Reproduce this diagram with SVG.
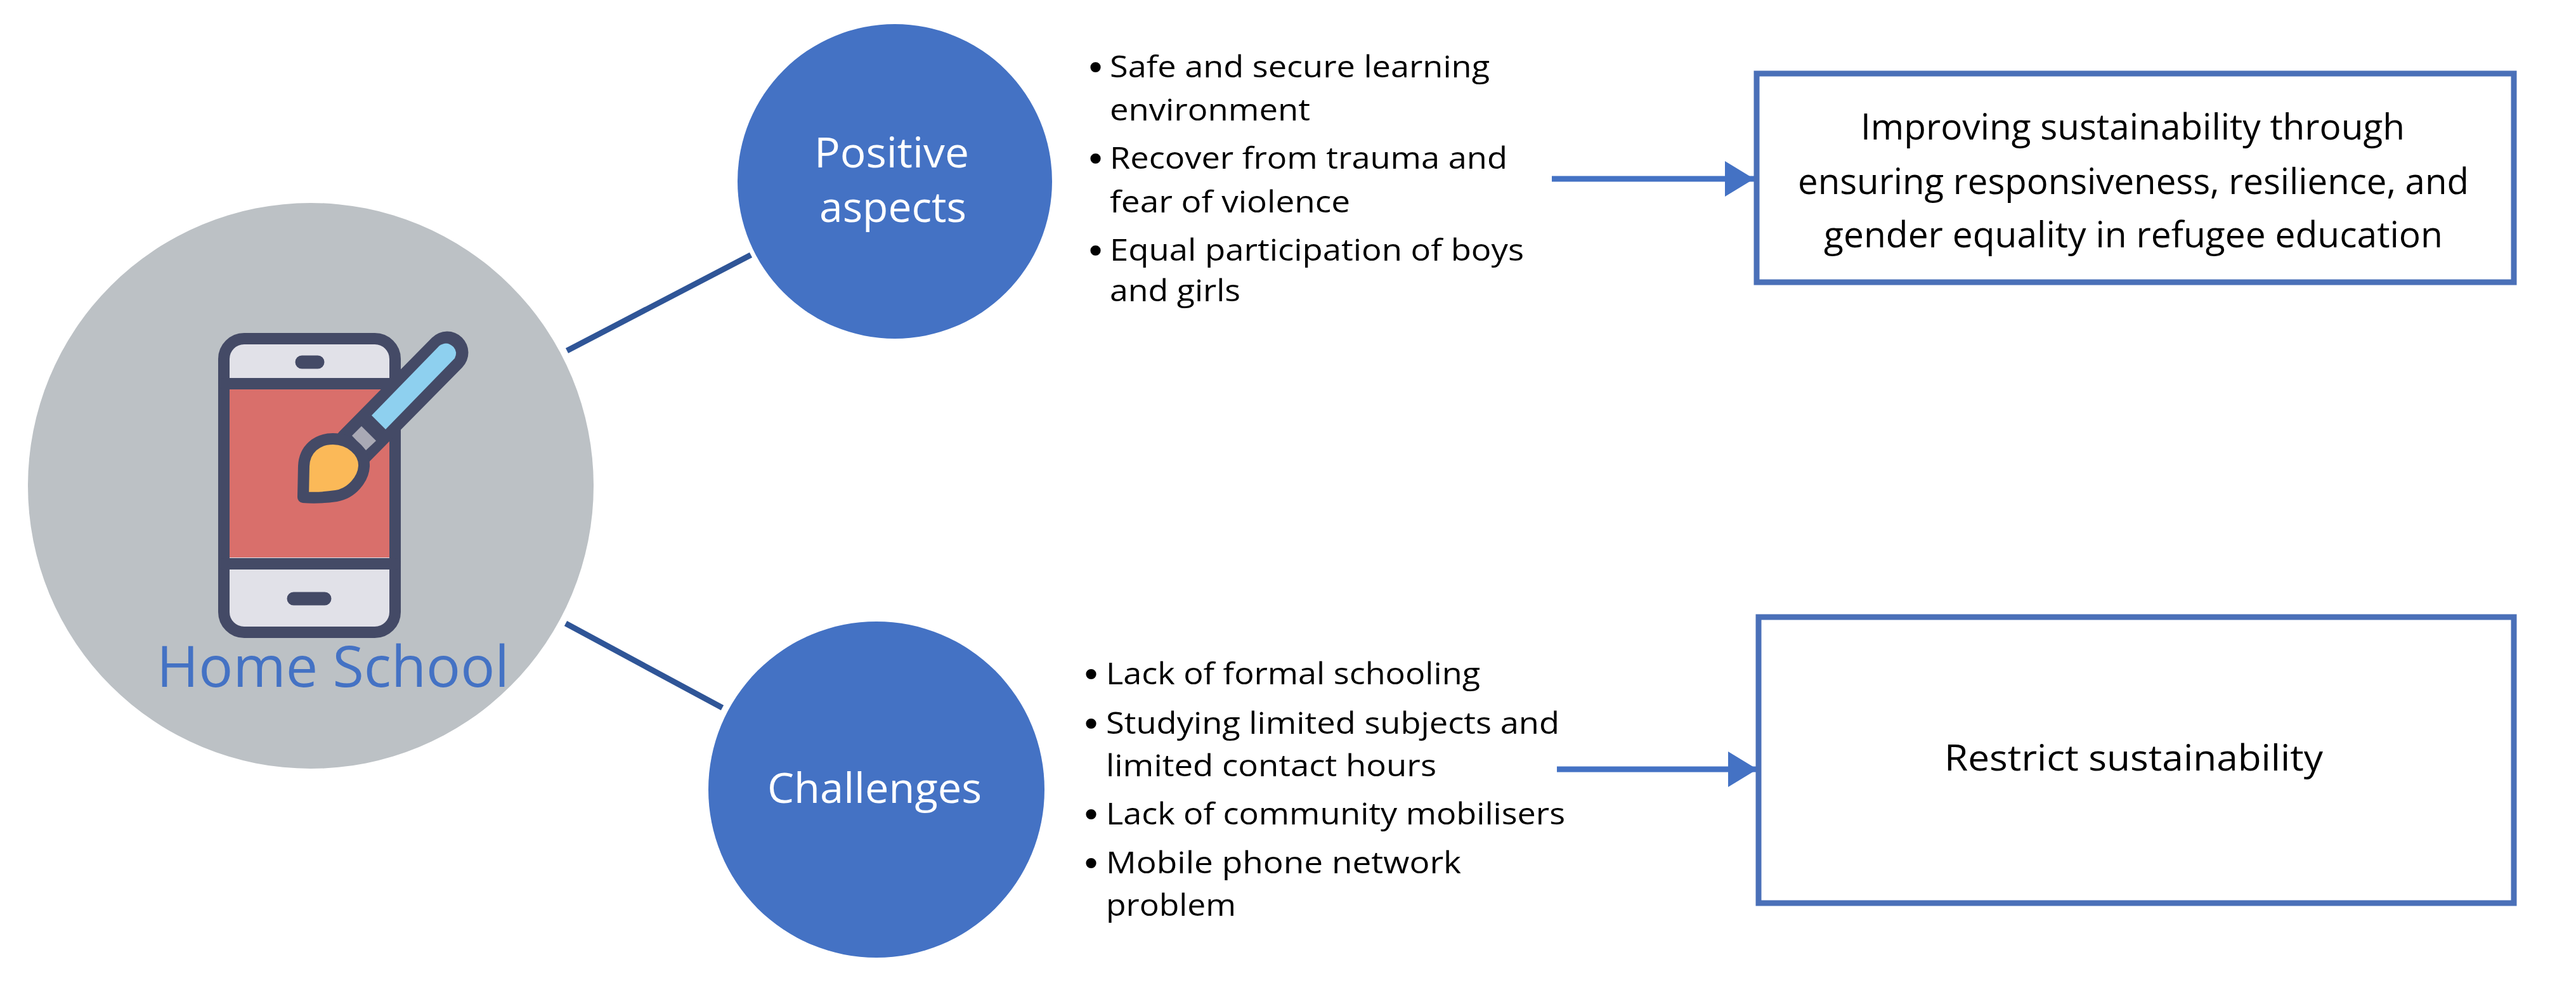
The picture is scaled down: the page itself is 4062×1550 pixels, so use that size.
<svg xmlns="http://www.w3.org/2000/svg" width="4062" height="1550" viewBox="0 0 4062 1550">
<style>
text{font-family:"Open Sans","Noto Sans","Liberation Sans",sans-serif}
.b{font-size:48px;fill:#000}
text.bu{font-family:"DejaVu Sans","Liberation Sans",sans-serif;font-size:56px;fill:#000}
.t{font-size:56px;fill:#000}
.w{font-size:66px;fill:#fff}
.blue{fill:#4472c4}
.box{fill:#fff;stroke:#4a70b8;stroke-width:9}
.link{stroke:#2f5597;stroke-width:9;fill:none}
.arr{stroke:#4472c4;stroke-width:9;fill:none;marker-end:url(#head)}
.dk{stroke:#444a66;fill:none;stroke-linecap:round;stroke-linejoin:round}
</style>
<defs>
<marker id="head" markerUnits="userSpaceOnUse" markerWidth="46" markerHeight="60" refX="46" refY="30" orient="auto">
<path d="M0 2L46 30L0 58Z" fill="#4472c4"/>
</marker>
</defs>
<rect width="4062" height="1550" fill="#fff"/>
<g id="connectors">
<line class="link" x1="894" y1="553" x2="1184" y2="402"/>
<line class="link" x1="892" y1="983" x2="1139" y2="1116"/>
<line class="arr" x1="2447" y1="282" x2="2766" y2="282"/>
<line class="arr" x1="2455" y1="1213" x2="2771" y2="1213"/>
</g>
<g id="home-school">
<ellipse cx="490" cy="766" rx="446" ry="446" fill="#bcc1c5"/>
<rect x="353" y="534" width="270" height="463" rx="32" fill="#e1e1e8" stroke="#444a66" stroke-width="18"/>
<rect x="362" y="613" width="252" height="266" fill="#d96f6b"/>
<path class="dk" stroke-width="18" d="M353 605H623M353 889H623"/>
<path class="dk" stroke-width="21" d="M476 571H501M463 944H512"/>
<path d="M705 556L559 704" stroke="#444a66" stroke-width="67" stroke-linecap="round" fill="none"/>
<path d="M586 655L693 545Q705 537 715 547Q722 555 717 565L608 677Z" fill="#8ed0ef"/>
<path d="M570 672L593 695L577 710L555 687Z" fill="#a9a9b5"/>
<path d="M478 784L479 735C480 708 500 692 525 692C552 692 575 712 574 735C573 755 555 778 530 782C510 785 490 785 478 784Z" fill="#fbb958" stroke="#444a66" stroke-width="18" stroke-linejoin="round"/>
<text x="247" y="1083" font-size="90" class="blue" textLength="556" lengthAdjust="spacingAndGlyphs">Home School</text>
</g>
<g id="positive-aspects">
<circle cx="1411" cy="286" r="248" class="blue"/>
<text class="w" x="1284" y="264" textLength="244" lengthAdjust="spacingAndGlyphs">Positive</text>
<text class="w" x="1292" y="350" textLength="232" lengthAdjust="spacingAndGlyphs">aspects</text>
</g>
<g id="challenges">
<circle cx="1382" cy="1245" r="265" class="blue"/>
<text class="w" x="1210" y="1266" textLength="338" lengthAdjust="spacingAndGlyphs">Challenges</text>
</g>
<g id="positive-list">
<text class="bu" x="1711" y="127">•</text><text class="b" x="1750" y="122" textLength="599" lengthAdjust="spacingAndGlyphs">Safe and secure learning</text>
<text class="b" x="1750" y="190" textLength="316" lengthAdjust="spacingAndGlyphs">environment</text>
<text class="bu" x="1711" y="271">•</text><text class="b" x="1750" y="266" textLength="627" lengthAdjust="spacingAndGlyphs">Recover from trauma and</text>
<text class="b" x="1750" y="335" textLength="379" lengthAdjust="spacingAndGlyphs">fear of violence</text>
<text class="bu" x="1711" y="416">•</text><text class="b" x="1750" y="411" textLength="653" lengthAdjust="spacingAndGlyphs">Equal participation of boys</text>
<text class="b" x="1750" y="475" textLength="206" lengthAdjust="spacingAndGlyphs">and girls</text>
</g>
<g id="challenges-list">
<text class="bu" x="1704" y="1084">•</text><text class="b" x="1744" y="1079" textLength="590" lengthAdjust="spacingAndGlyphs">Lack of formal schooling</text>
<text class="bu" x="1704" y="1162">•</text><text class="b" x="1744" y="1157" textLength="715" lengthAdjust="spacingAndGlyphs">Studying limited subjects and</text>
<text class="b" x="1744" y="1224" textLength="521" lengthAdjust="spacingAndGlyphs">limited contact hours</text>
<text class="bu" x="1704" y="1305">•</text><text class="b" x="1744" y="1300" textLength="724" lengthAdjust="spacingAndGlyphs">Lack of community mobilisers</text>
<text class="bu" x="1704" y="1382">•</text><text class="b" x="1744" y="1377" textLength="560" lengthAdjust="spacingAndGlyphs">Mobile phone network</text>
<text class="b" x="1744" y="1444" textLength="205" lengthAdjust="spacingAndGlyphs">problem</text>
</g>
<g id="outcome-improving">
<rect class="box" x="2770" y="116" width="1194" height="329"/>
<text class="t" x="2934" y="220" textLength="858" lengthAdjust="spacingAndGlyphs">Improving sustainability through</text>
<text class="t" x="2835" y="306" textLength="1058" lengthAdjust="spacingAndGlyphs">ensuring responsiveness, resilience, and</text>
<text class="t" x="2876" y="390" textLength="976" lengthAdjust="spacingAndGlyphs">gender equality in refugee education</text>
</g>
<g id="outcome-restrict">
<rect class="box" x="2773" y="973" width="1191" height="451"/>
<text class="t" x="3066" y="1215" textLength="597" lengthAdjust="spacingAndGlyphs">Restrict sustainability</text>
</g>
</svg>
